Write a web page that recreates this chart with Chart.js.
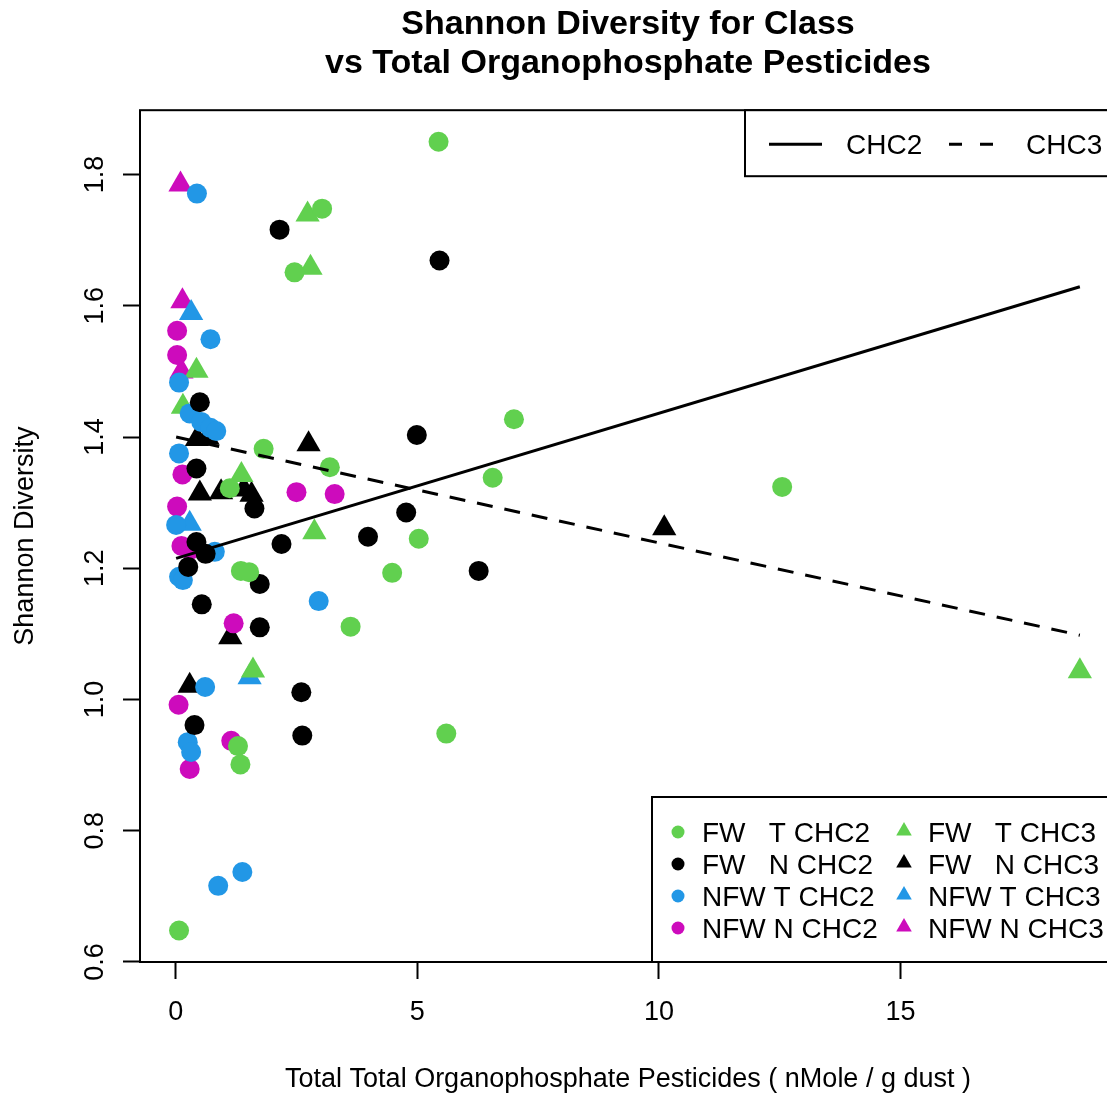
<!DOCTYPE html>
<html>
<head>
<meta charset="utf-8">
<title>Shannon Diversity for Class</title>
<script src="https://cdn.jsdelivr.net/npm/chart.js@4.4.1/dist/chart.umd.min.js"></script>
<style>
  html, body { margin: 0; padding: 0; background: #fff; overflow: hidden; }
  #wrap { width: 1107px; height: 1097px; overflow: hidden; }
  #wrap canvas { display: block; }
</style>
</head>
<body>
<div id="wrap"><canvas id="chart" width="1130" height="1097"></canvas></div>
<script>
// Data: [pesticides, shannon diversity]
const fwT_chc2 = [[5.44,1.850],[3.03,1.748],[2.46,1.651],[7.00,1.427],[1.82,1.382],[3.19,1.354],[6.56,1.338],
  [12.55,1.324],[1.12,1.322],[5.03,1.245],[4.48,1.193],[1.35,1.196],[1.52,1.194],[3.62,1.111],[5.60,0.948],
  [1.29,0.929],[1.34,0.901],[0.07,0.648]];
const fwN_chc2 = [[2.15,1.716],[5.46,1.669],[0.50,1.453],[0.43,1.352],[4.99,1.403],[1.63,1.291],[4.77,1.285],
  [3.98,1.248],[2.19,1.237],[0.43,1.240],[0.62,1.222],[0.26,1.202],[6.27,1.196],[1.74,1.176],[0.54,1.145],
  [1.74,1.110],[2.60,1.011],[0.39,0.961],[2.62,0.945]];
const nfwT_chc2 = [[0.44,1.771],[0.72,1.549],[0.07,1.483],[0.29,1.436],[0.53,1.423],[0.72,1.414],[0.84,1.409],
  [0.07,1.375],[0.01,1.266],[0.81,1.225],[0.07,1.187],[0.15,1.182],[2.96,1.150],[0.61,1.019],[0.25,0.935],
  [0.32,0.920],[0.88,0.716],[1.38,0.737]];
const nfwN_chc2 = [[0.03,1.562],[0.03,1.525],[0.14,1.343],[2.50,1.316],[3.29,1.313],[0.03,1.294],[0.12,1.234],
  [0.30,1.228],[1.20,1.116],[0.06,0.992],[1.15,0.937],[0.29,0.894]];
const fwT_chc3 = [[2.73,1.739],[2.79,1.658],[0.43,1.501],[0.15,1.446],[1.36,1.342],[2.87,1.255],[1.60,1.044],[18.71,1.043]];
const fwN_chc3 = [[0.44,1.397],[0.66,1.399],[2.75,1.389],[0.50,1.314],[0.94,1.316],[1.41,1.320],[1.57,1.312],
  [10.11,1.261],[1.13,1.095],[0.29,1.021]];
const nfwT_chc3 = [[0.32,1.589],[0.29,1.268],[1.53,1.034]];
const nfwN_chc3 = [[0.10,1.785],[0.14,1.607],[0.12,1.500]];

// fitted lines (end points)
const fitChc2 = [[0.01,1.215],[18.71,1.629]];
const fitChc3 = [[0.01,1.400],[18.71,1.098]];

const groupLabels = ['FW   T CHC2','FW   N CHC2','NFW T CHC2','NFW N CHC2','FW   T CHC3','FW   N CHC3','NFW T CHC3','NFW N CHC3'];
const lineLabels = ['CHC2','CHC3'];
const xTicks = [0, 5, 10, 15];
const yTicks = [0.6, 0.8, 1.0, 1.2, 1.4, 1.6, 1.8];

const FONT = "'Liberation Sans', Arial, sans-serif";
const GREEN = '#61D04F', BLACK = '#000000', BLUE = '#2297E6', MAGENTA = '#CD0BBC';

const groups = [fwT_chc2, fwN_chc2, nfwT_chc2, nfwN_chc2, fwT_chc3, fwN_chc3, nfwT_chc3, nfwN_chc3];
const colors = [GREEN, BLACK, BLUE, MAGENTA, GREEN, BLACK, BLUE, MAGENTA];

const toXY = arr => arr.map(p => ({ x: p[0], y: p[1] }));

// R style axis range: data range plus 4% each side
const allPts = groups.flat();
const xs = allPts.map(p => p[0]), ys = allPts.map(p => p[1]);
const xLo = Math.min(...xs), xHi = Math.max(...xs);
const yLo = Math.min(...ys), yHi = Math.max(...ys);
const xPad = (xHi - xLo) * 0.04, yPad = (yHi - yLo) * 0.04;

const datasets = [
    {
        label: lineLabels[0], data: toXY(fitChc2), showLine: true, borderColor: BLACK,
        borderWidth: 3, pointRadius: 0, order: 0
    },
    {
        label: lineLabels[1], data: toXY(fitChc3), showLine: true, borderColor: BLACK,
        borderWidth: 3, borderDash: [16, 12], pointRadius: 0, order: 0
    }
];
groups.forEach((g, i) => {
    const tri = i >= 4;
    datasets.push({
        label: groupLabels[i],
        data: toXY(g),
        showLine: false,
        pointStyle: tri ? 'triangle' : 'circle',
        pointRadius: tri ? 14 : 10,
        backgroundColor: colors[i],
        borderColor: colors[i],
        borderWidth: 0,
        order: 1
    });
});

// box around the plot region
const plotBox = {
    id: 'plotBox',
    afterDatasetsDraw(chart) {
        const { ctx, chartArea: a } = chart;
        ctx.save();
        ctx.strokeStyle = '#000';
        ctx.lineWidth = 2;
        ctx.strokeRect(a.left, a.top, a.right - a.left, a.bottom - a.top);
        ctx.restore();
    }
};

// the two legends, placed top right and bottom right like R's legend()
const rLegends = {
    id: 'rLegends',
    afterDraw(chart) {
        const { ctx, chartArea: a } = chart;
        ctx.save();
        ctx.font = '28px ' + FONT;
        ctx.textBaseline = 'middle';
        ctx.textAlign = 'left';
        ctx.lineWidth = 2;
        ctx.strokeStyle = '#000';

        // line legend
        let x0 = a.right - 371, y0 = a.top;
        ctx.fillStyle = '#fff';
        ctx.fillRect(x0, y0, a.right - x0, 66);
        ctx.strokeRect(x0, y0, a.right - x0, 66);
        ctx.lineWidth = 3;
        ctx.beginPath();
        ctx.moveTo(x0 + 24, y0 + 34); ctx.lineTo(x0 + 77, y0 + 34);
        ctx.stroke();
        ctx.setLineDash([13, 18]);
        ctx.beginPath();
        ctx.moveTo(x0 + 204, y0 + 34); ctx.lineTo(x0 + 248, y0 + 34);
        ctx.stroke();
        ctx.setLineDash([]);
        ctx.fillStyle = '#000';
        ctx.fillText(lineLabels[0], x0 + 101, y0 + 36);
        ctx.fillText(lineLabels[1], x0 + 281, y0 + 36);

        // group legend
        ctx.lineWidth = 2;
        x0 = a.right - 464; y0 = a.bottom - 165;
        ctx.fillStyle = '#fff';
        ctx.fillRect(x0, y0, a.right - x0, a.bottom - y0);
        ctx.strokeRect(x0, y0, a.right - x0, a.bottom - y0);
        groupLabels.forEach((lab, i) => {
            const col = Math.floor(i / 4), row = i % 4;
            const mx = x0 + 26 + col * 226, my = y0 + 36 + row * 32;
            ctx.fillStyle = colors[i];
            ctx.beginPath();
            if (col === 0) {
                ctx.arc(mx, my - 1, 6.5, 0, Math.PI * 2);
            } else {
                const r = 9;
                ctx.moveTo(mx, my - 2 - r);
                ctx.lineTo(mx + r * 0.866, my - 2 + r / 2);
                ctx.lineTo(mx - r * 0.866, my - 2 + r / 2);
                ctx.closePath();
            }
            ctx.fill();
            ctx.fillStyle = '#000';
            ctx.fillText(lab, mx + 24, my + 1);
        });
        ctx.restore();
    }
};

new Chart(document.getElementById('chart'), {
    type: 'scatter',
    data: { datasets },
    plugins: [plotBox, rLegends],
    options: {
        responsive: false,
        animation: false,
        events: [],
        layout: { padding: { left: 0, right: 13, top: 0, bottom: 0 } },
        plugins: {
            legend: { display: false },
            tooltip: { enabled: false },
            title: {
                display: true,
                fullSize: false,
                text: ['Shannon Diversity for Class', 'vs Total Organophosphate Pesticides'],
                color: '#000',
                font: { family: FONT, size: 34, weight: 'bold', lineHeight: 1.15 },
                padding: { top: 5, bottom: 27 }
            }
        },
        scales: {
            x: {
                type: 'linear',
                min: xLo - xPad,
                max: xHi + xPad,
                afterBuildTicks: s => { s.ticks = xTicks.map(v => ({ value: v })); },
                afterFit: s => { s.height = 135; },
                border: { display: false },
                grid: { drawOnChartArea: false, drawTicks: true, tickLength: 17, tickColor: '#000', tickWidth: 2, color: '#000' },
                ticks: {
                    color: '#000', padding: 17,
                    font: { family: FONT, size: 27 },
                    callback: v => String(v)
                },
                title: {
                    display: true,
                    text: 'Total Total Organophosphate Pesticides ( nMole / g dust )',
                    color: '#000',
                    font: { family: FONT, size: 27 },
                    padding: { top: 0, bottom: 1 }
                }
            },
            y: {
                type: 'linear',
                min: yLo - yPad,
                max: yHi + yPad,
                afterBuildTicks: s => { s.ticks = yTicks.map(v => ({ value: v })); },
                afterFit: s => { s.width = 140; },
                border: { display: false },
                grid: { drawOnChartArea: false, drawTicks: true, tickLength: 17, tickColor: '#000', tickWidth: 2, color: '#000' },
                ticks: {
                    color: '#000', padding: 9,
                    minRotation: 90, maxRotation: 90,
                    crossAlign: 'center',
                    font: { family: FONT, size: 27 },
                    callback: v => v.toFixed(1)
                },
                title: {
                    display: true,
                    text: 'Shannon Diversity',
                    color: '#000',
                    font: { family: FONT, size: 27 },
                    padding: { top: 9, bottom: 0 }
                }
            }
        }
    }
});
</script>
</body>
</html>
